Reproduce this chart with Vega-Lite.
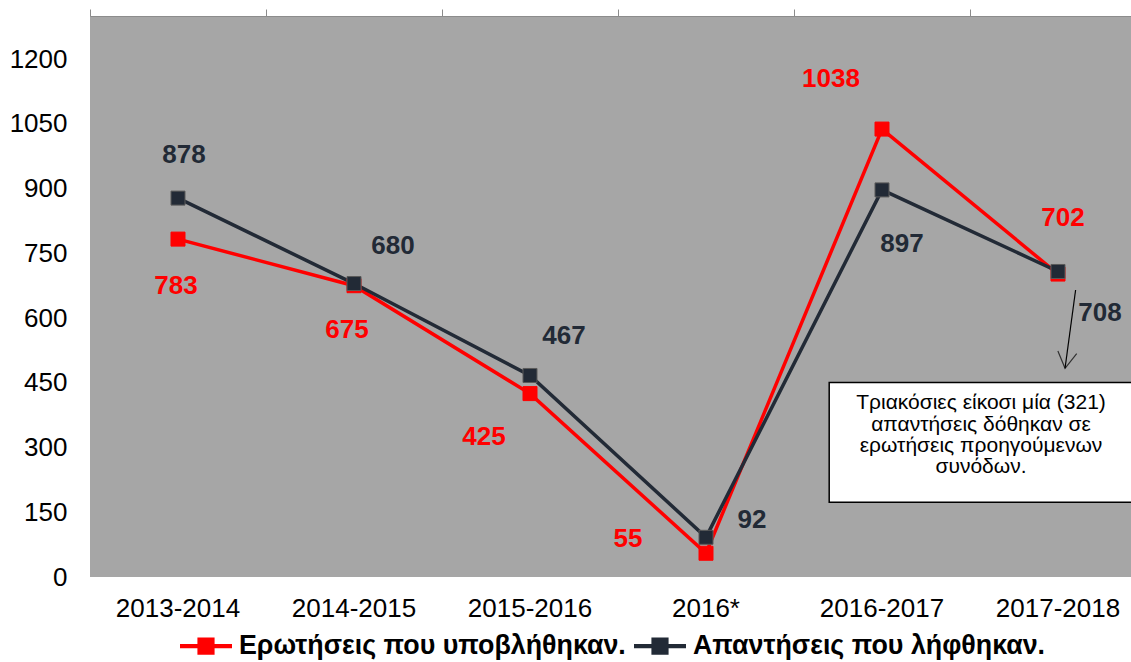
{
  "$schema": "https://vega.github.io/schema/vega-lite/v6.json",
  "width": 1041,
  "height": 561,
  "autosize": {"type": "none"},
  "padding": {"left": 90, "top": 16, "right": 0, "bottom": 85},
  "background": "white",
  "config": {"view": {"fill": "#A6A6A6", "stroke": null}, "font": "Liberation Sans"},
  "datasets": {
    "main": [
      {"period": "2013-2014", "series": "Ερωτήσεις που υποβλήθηκαν.", "value": 783},
      {"period": "2014-2015", "series": "Ερωτήσεις που υποβλήθηκαν.", "value": 675},
      {"period": "2015-2016", "series": "Ερωτήσεις που υποβλήθηκαν.", "value": 425},
      {"period": "2016*", "series": "Ερωτήσεις που υποβλήθηκαν.", "value": 55},
      {"period": "2016-2017", "series": "Ερωτήσεις που υποβλήθηκαν.", "value": 1038},
      {"period": "2017-2018", "series": "Ερωτήσεις που υποβλήθηκαν.", "value": 702},
      {"period": "2013-2014", "series": "Απαντήσεις που λήφθηκαν.", "value": 878},
      {"period": "2014-2015", "series": "Απαντήσεις που λήφθηκαν.", "value": 680},
      {"period": "2015-2016", "series": "Απαντήσεις που λήφθηκαν.", "value": 467},
      {"period": "2016*", "series": "Απαντήσεις που λήφθηκαν.", "value": 92},
      {"period": "2016-2017", "series": "Απαντήσεις που λήφθηκαν.", "value": 897},
      {"period": "2017-2018", "series": "Απαντήσεις που λήφθηκαν.", "value": 708}
    ],
    "box": [{"x0": 4.2, "x1": 6.2, "y0": 173, "y1": 451}],
    "arrow": [{"x0": 5.6, "y0": 665, "x1": 5.54, "y1": 483.7}],
    "note": [{"x": 5.0625, "y": 402.5}]
  },
  "resolve": {"scale": {"x": "independent"}, "axis": {"x": "independent"}},
  "layer": [
    {
      "data": {"name": "box"},
      "mark": {"type": "rect", "fill": "white", "stroke": "black", "strokeWidth": 1.5},
      "encoding": {
        "x": {"field": "x0", "type": "quantitative", "scale": {"domain": [0, 6], "range": [0, 1056], "nice": false, "zero": false}, "axis": null},
        "x2": {"field": "x1"},
        "y": {"field": "y0", "type": "quantitative", "scale": {"domain": [0, 1300], "nice": false}, "axis": {"title": null, "values": [0, 150, 300, 450, 600, 750, 900, 1050, 1200], "format": "d", "labelFontSize": 26, "labelColor": "black", "labelPadding": 23, "ticks": false, "domain": false, "grid": false}},
        "y2": {"field": "y1"}
      }
    },
    {
      "data": {"name": "note"},
      "mark": {"type": "text", "text": ["Τριακόσιες είκοσι μία (321)", "απαντήσεις δόθηκαν σε", "ερωτήσεις προηγούμενων", "συνόδων."], "fontSize": 21, "lineHeight": 21.3, "align": "center", "baseline": "middle", "color": "black"},
      "encoding": {
        "x": {"field": "x", "type": "quantitative", "scale": {"domain": [0, 6], "range": [0, 1056], "nice": false, "zero": false}, "axis": null},
        "y": {"field": "y", "type": "quantitative"}
      }
    },
    {
      "data": {"name": "arrow"},
      "mark": {"type": "rule", "stroke": "black", "strokeWidth": 1.2},
      "encoding": {
        "x": {"field": "x0", "type": "quantitative", "scale": {"domain": [0, 6], "range": [0, 1056], "nice": false, "zero": false}, "axis": null},
        "x2": {"field": "x1"},
        "y": {"field": "y0", "type": "quantitative"},
        "y2": {"field": "y1"}
      }
    },
    {
      "data": {"name": "arrow"},
      "mark": {"type": "point", "shape": "M-1,-1.7L0,0L1,-1.7", "size": 361, "filled": false, "stroke": "black", "strokeWidth": 1.2, "angle": 8},
      "encoding": {
        "x": {"field": "x1", "type": "quantitative", "scale": {"domain": [0, 6], "range": [0, 1056], "nice": false, "zero": false}, "axis": null},
        "y": {"field": "y1", "type": "quantitative"}
      }
    },
    {
      "data": {"name": "main"},
      "mark": {"type": "line", "strokeWidth": 3.5},
      "encoding": {
        "x": {"field": "period", "type": "nominal", "sort": null, "scale": {"type": "band", "domain": ["2013-2014", "2014-2015", "2015-2016", "2016*", "2016-2017", "2017-2018"], "range": [0, 1056], "paddingInner": 0, "paddingOuter": 0}, "axis": {"orient": "top", "title": null, "labels": false, "ticks": true, "tickSize": 7, "tickColor": "#8c8c8c", "domainColor": "#8c8c8c", "tickBand": "extent", "grid": false}},
        "y": {"field": "value", "type": "quantitative"},
        "color": {"field": "series", "type": "nominal", "scale": {"domain": ["Ερωτήσεις που υποβλήθηκαν.", "Απαντήσεις που λήφθηκαν."], "range": ["#FF0000", "#222A36"]}, "legend": {"orient": "none", "legendX": 90, "legendY": 604, "direction": "horizontal", "title": null, "symbolType": "M-1,-0.08H1V0.08H-1Z M-0.33,-0.33H0.33V0.33H-0.33Z", "symbolSize": 2704, "symbolStrokeWidth": 0, "labelFontSize": 26.8, "labelFontWeight": "bold", "labelColor": "black", "labelLimit": 600, "columnPadding": 8, "labelOffset": 7, "padding": 0, "encode": {"symbols": {"update": {"fill": {"scale": "color", "field": "value"}, "stroke": {"value": "transparent"}, "strokeWidth": {"value": 0}}}}}}
      }
    },
    {
      "data": {"name": "main"},
      "mark": {"type": "point", "shape": "square", "filled": true, "size": 196, "opacity": 1, "strokeWidth": 1},
      "encoding": {
        "x": {"field": "period", "type": "nominal", "sort": null, "scale": {"type": "band", "domain": ["2013-2014", "2014-2015", "2015-2016", "2016*", "2016-2017", "2017-2018"], "range": [0, 1056], "paddingInner": 0, "paddingOuter": 0}, "axis": {"orient": "bottom", "title": null, "labelFontSize": 26, "labelColor": "black", "ticks": false, "domain": false, "labelPadding": 18, "labelAngle": 0, "grid": false}},
        "y": {"field": "value", "type": "quantitative"},
        "color": {"field": "series", "type": "nominal", "scale": {"domain": ["Ερωτήσεις που υποβλήθηκαν.", "Απαντήσεις που λήφθηκαν."], "range": ["#FF0000", "#222A36"]}, "legend": {"orient": "none", "legendX": 90, "legendY": 604, "direction": "horizontal", "title": null, "symbolType": "M-1,-0.08H1V0.08H-1Z M-0.33,-0.33H0.33V0.33H-0.33Z", "symbolSize": 2704, "symbolStrokeWidth": 0, "labelFontSize": 26.8, "labelFontWeight": "bold", "labelColor": "black", "labelLimit": 600, "columnPadding": 8, "labelOffset": 7, "padding": 0, "encode": {"symbols": {"update": {"fill": {"scale": "color", "field": "value"}, "stroke": {"value": "transparent"}, "strokeWidth": {"value": 0}}}}}},
        "stroke": {"field": "series", "type": "nominal", "scale": {"domain": ["Ερωτήσεις που υποβλήθηκαν.", "Απαντήσεις που λήφθηκαν."], "range": ["#FF0000", "#5a5a5a"]}, "legend": null}
      }
    },
    {"data": {"name": "main"}, "transform": [{"filter": "datum.series === 'Ερωτήσεις που υποβλήθηκαν.' && datum.period === '2013-2014'"}], "mark": {"type": "text", "dx": -2, "dy": 47, "fontSize": 26, "fontWeight": "bold", "color": "#FF0000", "baseline": "middle"}, "encoding": {"x": {"field": "period", "type": "nominal", "scale": {"type": "band", "domain": ["2013-2014", "2014-2015", "2015-2016", "2016*", "2016-2017", "2017-2018"], "range": [0, 1056], "paddingInner": 0, "paddingOuter": 0}, "axis": null}, "y": {"field": "value", "type": "quantitative"}, "text": {"field": "value", "type": "quantitative"}}},
    {"data": {"name": "main"}, "transform": [{"filter": "datum.series === 'Ερωτήσεις που υποβλήθηκαν.' && datum.period === '2014-2015'"}], "mark": {"type": "text", "dx": -7, "dy": 44, "fontSize": 26, "fontWeight": "bold", "color": "#FF0000", "baseline": "middle"}, "encoding": {"x": {"field": "period", "type": "nominal", "scale": {"type": "band", "domain": ["2013-2014", "2014-2015", "2015-2016", "2016*", "2016-2017", "2017-2018"], "range": [0, 1056], "paddingInner": 0, "paddingOuter": 0}, "axis": null}, "y": {"field": "value", "type": "quantitative"}, "text": {"field": "value", "type": "quantitative"}}},
    {"data": {"name": "main"}, "transform": [{"filter": "datum.series === 'Ερωτήσεις που υποβλήθηκαν.' && datum.period === '2015-2016'"}], "mark": {"type": "text", "dx": -46, "dy": 43, "fontSize": 26, "fontWeight": "bold", "color": "#FF0000", "baseline": "middle"}, "encoding": {"x": {"field": "period", "type": "nominal", "scale": {"type": "band", "domain": ["2013-2014", "2014-2015", "2015-2016", "2016*", "2016-2017", "2017-2018"], "range": [0, 1056], "paddingInner": 0, "paddingOuter": 0}, "axis": null}, "y": {"field": "value", "type": "quantitative"}, "text": {"field": "value", "type": "quantitative"}}},
    {"data": {"name": "main"}, "transform": [{"filter": "datum.series === 'Ερωτήσεις που υποβλήθηκαν.' && datum.period === '2016*'"}], "mark": {"type": "text", "dx": -78, "dy": -14, "fontSize": 26, "fontWeight": "bold", "color": "#FF0000", "baseline": "middle"}, "encoding": {"x": {"field": "period", "type": "nominal", "scale": {"type": "band", "domain": ["2013-2014", "2014-2015", "2015-2016", "2016*", "2016-2017", "2017-2018"], "range": [0, 1056], "paddingInner": 0, "paddingOuter": 0}, "axis": null}, "y": {"field": "value", "type": "quantitative"}, "text": {"field": "value", "type": "quantitative"}}},
    {"data": {"name": "main"}, "transform": [{"filter": "datum.series === 'Ερωτήσεις που υποβλήθηκαν.' && datum.period === '2016-2017'"}], "mark": {"type": "text", "dx": -51, "dy": -50, "fontSize": 26, "fontWeight": "bold", "color": "#FF0000", "baseline": "middle"}, "encoding": {"x": {"field": "period", "type": "nominal", "scale": {"type": "band", "domain": ["2013-2014", "2014-2015", "2015-2016", "2016*", "2016-2017", "2017-2018"], "range": [0, 1056], "paddingInner": 0, "paddingOuter": 0}, "axis": null}, "y": {"field": "value", "type": "quantitative"}, "text": {"field": "value", "type": "quantitative"}}},
    {"data": {"name": "main"}, "transform": [{"filter": "datum.series === 'Ερωτήσεις που υποβλήθηκαν.' && datum.period === '2017-2018'"}], "mark": {"type": "text", "dx": 5, "dy": -56, "fontSize": 26, "fontWeight": "bold", "color": "#FF0000", "baseline": "middle"}, "encoding": {"x": {"field": "period", "type": "nominal", "scale": {"type": "band", "domain": ["2013-2014", "2014-2015", "2015-2016", "2016*", "2016-2017", "2017-2018"], "range": [0, 1056], "paddingInner": 0, "paddingOuter": 0}, "axis": null}, "y": {"field": "value", "type": "quantitative"}, "text": {"field": "value", "type": "quantitative"}}},
    {"data": {"name": "main"}, "transform": [{"filter": "datum.series === 'Απαντήσεις που λήφθηκαν.' && datum.period === '2013-2014'"}], "mark": {"type": "text", "dx": 6, "dy": -43, "fontSize": 26, "fontWeight": "bold", "color": "#222A36", "baseline": "middle"}, "encoding": {"x": {"field": "period", "type": "nominal", "scale": {"type": "band", "domain": ["2013-2014", "2014-2015", "2015-2016", "2016*", "2016-2017", "2017-2018"], "range": [0, 1056], "paddingInner": 0, "paddingOuter": 0}, "axis": null}, "y": {"field": "value", "type": "quantitative"}, "text": {"field": "value", "type": "quantitative"}}},
    {"data": {"name": "main"}, "transform": [{"filter": "datum.series === 'Απαντήσεις που λήφθηκαν.' && datum.period === '2014-2015'"}], "mark": {"type": "text", "dx": 39, "dy": -38, "fontSize": 26, "fontWeight": "bold", "color": "#222A36", "baseline": "middle"}, "encoding": {"x": {"field": "period", "type": "nominal", "scale": {"type": "band", "domain": ["2013-2014", "2014-2015", "2015-2016", "2016*", "2016-2017", "2017-2018"], "range": [0, 1056], "paddingInner": 0, "paddingOuter": 0}, "axis": null}, "y": {"field": "value", "type": "quantitative"}, "text": {"field": "value", "type": "quantitative"}}},
    {"data": {"name": "main"}, "transform": [{"filter": "datum.series === 'Απαντήσεις που λήφθηκαν.' && datum.period === '2015-2016'"}], "mark": {"type": "text", "dx": 34, "dy": -39, "fontSize": 26, "fontWeight": "bold", "color": "#222A36", "baseline": "middle"}, "encoding": {"x": {"field": "period", "type": "nominal", "scale": {"type": "band", "domain": ["2013-2014", "2014-2015", "2015-2016", "2016*", "2016-2017", "2017-2018"], "range": [0, 1056], "paddingInner": 0, "paddingOuter": 0}, "axis": null}, "y": {"field": "value", "type": "quantitative"}, "text": {"field": "value", "type": "quantitative"}}},
    {"data": {"name": "main"}, "transform": [{"filter": "datum.series === 'Απαντήσεις που λήφθηκαν.' && datum.period === '2016*'"}], "mark": {"type": "text", "dx": 46, "dy": -17, "fontSize": 26, "fontWeight": "bold", "color": "#222A36", "baseline": "middle"}, "encoding": {"x": {"field": "period", "type": "nominal", "scale": {"type": "band", "domain": ["2013-2014", "2014-2015", "2015-2016", "2016*", "2016-2017", "2017-2018"], "range": [0, 1056], "paddingInner": 0, "paddingOuter": 0}, "axis": null}, "y": {"field": "value", "type": "quantitative"}, "text": {"field": "value", "type": "quantitative"}}},
    {"data": {"name": "main"}, "transform": [{"filter": "datum.series === 'Απαντήσεις που λήφθηκαν.' && datum.period === '2016-2017'"}], "mark": {"type": "text", "dx": 20, "dy": 54, "fontSize": 26, "fontWeight": "bold", "color": "#222A36", "baseline": "middle"}, "encoding": {"x": {"field": "period", "type": "nominal", "scale": {"type": "band", "domain": ["2013-2014", "2014-2015", "2015-2016", "2016*", "2016-2017", "2017-2018"], "range": [0, 1056], "paddingInner": 0, "paddingOuter": 0}, "axis": null}, "y": {"field": "value", "type": "quantitative"}, "text": {"field": "value", "type": "quantitative"}}},
    {"data": {"name": "main"}, "transform": [{"filter": "datum.series === 'Απαντήσεις που λήφθηκαν.' && datum.period === '2017-2018'"}], "mark": {"type": "text", "dx": 42, "dy": 42, "fontSize": 26, "fontWeight": "bold", "color": "#222A36", "baseline": "middle"}, "encoding": {"x": {"field": "period", "type": "nominal", "scale": {"type": "band", "domain": ["2013-2014", "2014-2015", "2015-2016", "2016*", "2016-2017", "2017-2018"], "range": [0, 1056], "paddingInner": 0, "paddingOuter": 0}, "axis": null}, "y": {"field": "value", "type": "quantitative"}, "text": {"field": "value", "type": "quantitative"}}}
  ]
}
